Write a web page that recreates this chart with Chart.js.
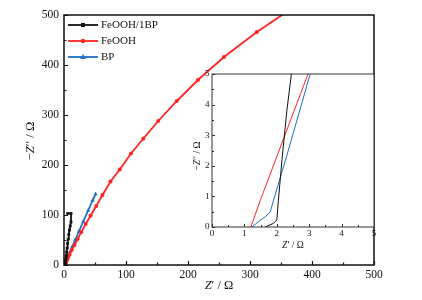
<!DOCTYPE html>
<html>
<head>
<meta charset="utf-8">
<script src="https://cdn.jsdelivr.net/npm/chart.js@4"></script>
<style>
  body { margin: 0; background: #fff; }
  #wrap { position: relative; width: 422px; height: 300px; }
  #main { position: absolute; left: 0; top: 0; }
  #inset { position: absolute; left: 180px; top: 66px; }
</style>
</head>
<body>
<div id="wrap">
  <canvas id="main" width="422" height="300"></canvas>
  <canvas id="inset" width="198" height="190"></canvas>
</div>
<script>
// Nyquist data, Z' (x) and -Z'' (y) in ohm
const seriesNames = ["FeOOH/1BP", "FeOOH", "BP"];
const seriesColors = ["#111111", "#ff2424", "#1f6fc5"];
const seriesMarkers = ["rect", "circle", "triangle"];

const feooh1bpX = [1.64, 1.9, 2.0, 2.05, 2.16, 2.31, 2.45, 2.8, 3.2, 3.7, 4.3, 5.0, 5.8, 6.7, 7.7, 8.8, 10.0, 11.3, 11.3, 6.0];
const feooh1bpY = [0, 0.12, 0.23, 0.88, 2.2, 3.8, 5.0, 8.5, 13, 19, 26, 34, 43, 52, 61, 70, 78, 86, 103, 103];

const feoohX = [1.2, 1.5, 2, 3, 4.5, 6.5, 9, 12.5, 17, 22, 28, 35, 43, 52, 62, 75, 90, 108, 128, 152, 182, 216, 258, 311, 372];
const feoohY = [0, 0.9, 2.3, 5.1, 9.2, 14.5, 21, 30, 40, 52, 66, 82, 99, 118, 140, 167, 191, 223, 253, 288, 328, 370, 416, 466, 517];

const bpX = [1.23, 1.43, 1.64, 1.8, 1.9, 2.3, 3.03, 4, 5.5, 7.5, 10, 13.5, 18, 24, 31, 39, 46, 51];
const bpY = [0, 0.17, 0.33, 0.5, 0.88, 2.3, 5, 8.5, 13, 19, 27, 37, 50, 67, 87, 109, 129, 142];

const mainXTicks = [0, 100, 200, 300, 400, 500];
const mainYTicks = [0, 100, 200, 300, 400, 500];
const insetXTicks = [0, 1, 2, 3, 4, 5];
const insetYTicks = [0, 1, 2, 3, 4, 5];

const serif = "'Liberation Serif', 'Times New Roman', serif";
Chart.defaults.font.family = serif;
Chart.defaults.color = "#111";

function pts(xs, ys) {
  return xs.map((x, i) => ({ x: x, y: ys[i] }));
}
const allX = [feooh1bpX, feoohX, bpX];
const allY = [feooh1bpY, feoohY, bpY];

function makeDatasets(withMarkers, width) {
  return seriesNames.map((name, i) => ({
    label: name,
    data: pts(allX[i], allY[i]),
    showLine: true,
    borderColor: seriesColors[i],
    backgroundColor: seriesColors[i],
    borderWidth: width,
    pointStyle: seriesMarkers[i],
    pointRadius: withMarkers ? (i === 2 ? 2.4 : 2) : 0,
    pointBorderWidth: 0,
    tension: 0,
  }));
}

// draw text with an italic Z inside
function mixedText(ctx, parts, size, x, y, rot) {
  ctx.save();
  ctx.translate(x, y);
  if (rot) ctx.rotate(rot);
  ctx.textBaseline = "middle";
  ctx.fillStyle = "#111";
  let total = 0;
  const w = parts.map(([t, st]) => {
    ctx.font = st + size + "px " + serif;
    const m = ctx.measureText(t).width;
    total += m;
    return m;
  });
  let cx = -total / 2;
  parts.forEach(([t, st], i) => {
    ctx.font = st + size + "px " + serif;
    ctx.fillText(t, cx, 0);
    cx += w[i];
  });
  ctx.restore();
}

// box + inward tick marks
const frame = {
  id: "frame",
  afterDraw(chart, args, o) {
    const { ctx, chartArea: a, scales } = chart;
    ctx.save();
    ctx.strokeStyle = o.color;
    ctx.lineWidth = o.width;
    ctx.strokeRect(a.left, a.top, a.right - a.left, a.bottom - a.top);
    ctx.lineWidth = o.tickWidth;
    ctx.beginPath();
    const sx = scales.x, sy = scales.y;
    for (let k = 0; sx.min + k * o.minor <= sx.max + 1e-9; k++) {
      const px = Math.round(sx.getPixelForValue(sx.min + k * o.minor)) + 0.5;
      const len = k % 2 === 0 ? o.majorLen : o.minorLen;
      ctx.moveTo(px, a.bottom);
      ctx.lineTo(px, a.bottom - len);
    }
    for (let k = 0; sy.min + k * o.minor <= sy.max + 1e-9; k++) {
      const py = Math.round(sy.getPixelForValue(sy.min + k * o.minor)) + 0.5;
      const len = k % 2 === 0 ? o.majorLen : o.minorLen;
      ctx.moveTo(a.left, py);
      ctx.lineTo(a.left + len, py);
    }
    ctx.stroke();
    ctx.restore();
  },
};

const titles = {
  id: "titles",
  afterDraw(chart, args, o) {
    const { ctx, chartArea: a } = chart;
    const cx = (a.left + a.right) / 2;
    mixedText(ctx, [["Z", "italic "], ["\u2032 / \u03A9", ""]], o.size, cx, o.xTitleY, 0);
    mixedText(ctx, [["\u2212", ""], ["Z", "italic "], ["\u2032\u2032 / \u03A9", ""]], o.size, o.yTitleX, o.yTitleY, -Math.PI / 2);
  },
};

const whiteArea = {
  id: "whiteArea",
  beforeDraw(chart) {
    const { ctx, chartArea: a } = chart;
    ctx.save();
    ctx.fillStyle = "#fff";
    ctx.fillRect(a.left, a.top, a.right - a.left, a.bottom - a.top);
    ctx.restore();
  },
};

const legendBox = {
  id: "legendBox",
  afterDraw(chart) {
    const ctx = chart.ctx;
    ctx.save();
    seriesNames.forEach((name, i) => {
      const y = 25 + i * 16;
      ctx.strokeStyle = seriesColors[i];
      ctx.lineWidth = 1.8;
      ctx.beginPath();
      ctx.moveTo(68, y);
      ctx.lineTo(98, y);
      ctx.stroke();
      ctx.fillStyle = seriesColors[i];
      ctx.beginPath();
      if (i === 0) ctx.rect(81, y - 2, 4, 4);
      else if (i === 1) ctx.arc(83, y, 2.2, 0, Math.PI * 2);
      else { ctx.moveTo(83, y - 3); ctx.lineTo(86, y + 2); ctx.lineTo(80, y + 2); ctx.closePath(); }
      ctx.fill();
      ctx.fillStyle = "#111";
      ctx.font = "11px " + serif;
      ctx.textBaseline = "middle";
      ctx.fillText(name, 101, y + 0.5);
    });
    ctx.restore();
  },
};

function axis(min, max, ticks, size, pad, fit) {
  return {
    type: "linear",
    min: min,
    max: max,
    afterBuildTicks: (s) => { s.ticks = ticks.map((v) => ({ value: v })); },
    afterFit: fit,
    grid: { display: false, drawTicks: false },
    border: { display: false },
    ticks: { font: { size: size }, padding: pad, maxRotation: 0, autoSkip: false, color: "#111" },
  };
}

new Chart(document.getElementById("main"), {
  type: "scatter",
  data: { datasets: makeDatasets(true, 1.8) },
  options: {
    responsive: false,
    animation: false,
    layout: { padding: { top: 15, right: 48, left: 0, bottom: 0 } },
    plugins: {
      legend: { display: false },
      tooltip: { enabled: false },
      frame: { color: "#111", width: 1.5, tickWidth: 1.2, minor: 50, majorLen: 4, minorLen: 2.5 },
      titles: { size: 12.5, xTitleY: 286, yTitleX: 31, yTitleY: 141 },
    },
    scales: {
      x: axis(0, 500, mainXTicks, 11.5, 3, (s) => { s.height = 35; }),
      y: axis(0, 500, mainYTicks, 11.5, 5, (s) => { s.width = 64; }),
    },
  },
  plugins: [frame, titles, legendBox],
});

new Chart(document.getElementById("inset"), {
  type: "scatter",
  data: { datasets: makeDatasets(false, 1) },
  options: {
    responsive: false,
    animation: false,
    layout: { padding: { top: 8, right: 4, left: 0, bottom: 0 } },
    plugins: {
      legend: { display: false },
      tooltip: { enabled: false },
      frame: { color: "#333", width: 1, tickWidth: 1, minor: 0.5, majorLen: 3, minorLen: 2 },
      titles: { size: 9.5, xTitleY: 179, yTitleX: 17, yTitleY: 90 },
    },
    scales: {
      x: axis(0, 5, insetXTicks, 9, 1, (s) => { s.height = 29; }),
      y: axis(0, 5, insetYTicks, 9, 2.5, (s) => { s.width = 32; }),
    },
  },
  plugins: [whiteArea, frame, titles],
});
</script>
</body>
</html>
